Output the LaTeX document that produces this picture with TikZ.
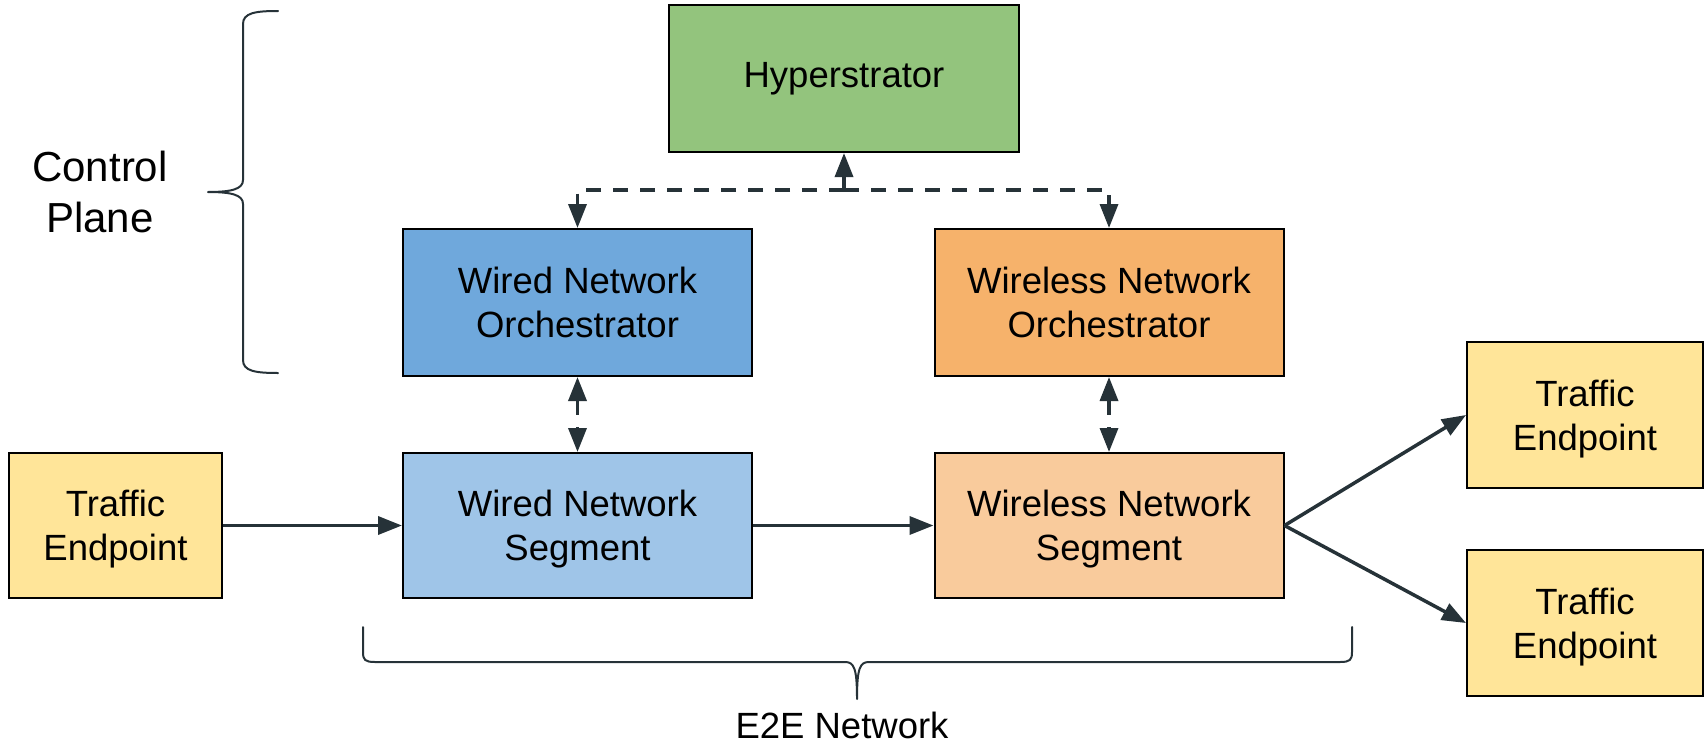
\documentclass[tikz,border=0pt]{standalone}
\usepackage{fontspec}
\setmainfont{Liberation Sans}
\usetikzlibrary{arrows.meta}
\definecolor{hypgreen}{HTML}{93C47D}
\definecolor{orchblue}{HTML}{6FA8DC}
\definecolor{orchorange}{HTML}{F6B26B}
\definecolor{segblue}{HTML}{9FC5E8}
\definecolor{segorange}{HTML}{F9CB9C}
\definecolor{endyellow}{HTML}{FFE599}
\definecolor{arrowdark}{HTML}{263238}
\tikzset{
  box/.style={draw=black, line width=2pt, align=center, inner sep=0pt,
    font=\fontsize{36.5}{44}\selectfont, text height=70.1pt, text depth=0pt,
    minimum width=349pt, minimum height=147pt},
  endbox/.style={box, fill=endyellow, minimum height=145pt},
  flow/.style={draw=arrowdark, line width=3.5pt, -{Triangle[length=24pt,width=18pt]}},
  ctrl/.style={flow, dash pattern=on 15pt off 12pt},
  ctrlboth/.style={ctrl, {Triangle[length=24pt,width=18pt]}-{Triangle[length=24pt,width=18pt]}},
  bracestyle/.style={draw=arrowdark, line width=2pt, line cap=round, line join=round},
  lbl/.style={align=center, inner sep=0pt}
}
\begin{document}
\begin{tikzpicture}[x=1pt,y=-1pt]
\useasboundingbox (0,0) rectangle (1705,744);
% nodes
\node[box, fill=hypgreen, minimum width=350pt, text height=26.1pt, text depth=9pt] (hyp) at (844,78.5) {Hyperstrator};
\node[box, fill=orchblue] (wo) at (577.5,302.5) {Wired Network\\Orchestrator};
\node[box, fill=orchorange] (wlo) at (1109,302.5) {Wireless Network\\Orchestrator};
\node[box, fill=segblue, minimum height=145pt] (ws) at (577.5,525.5) {Wired Network\\Segment};
\node[box, fill=segorange, minimum height=145pt] (wls) at (1109,525.5) {Wireless Network\\Segment};
\node[endbox, minimum width=213pt] (te1) at (115.5,525.5) {Traffic\\Endpoint};
\node[endbox, minimum width=236pt, minimum height=146pt] (te2) at (1585,415) {Traffic\\Endpoint};
\node[endbox, minimum width=236pt, minimum height=146pt] (te3) at (1585,623) {Traffic\\Endpoint};
% labels
\node[lbl, font=\fontsize{42}{51}\selectfont] (cp) at (100,192) {Control\\Plane};
\node[lbl, font=\fontsize{36.5}{44}\selectfont, anchor=base] (e2e) at (842,738) {E2E Network};
% control connectors
\coordinate (jn) at (844,190);
\draw[ctrl] (jn) -- (hyp.south);
\draw[ctrl] (jn) -| (wo.north);
\draw[ctrl] (jn) -| (wlo.north);
\draw[ctrlboth] (wo.south) -- (ws.north);
\draw[ctrlboth] (wlo.south) -- (wls.north);
% data flow
\draw[flow] (te1.east) -- (ws.west);
\draw[flow] (ws.east) -- (wls.west);
\draw[flow] (wls.east) -- (te2.west);
\draw[flow] (wls.east) -- (te3.west);
% braces
\draw[bracestyle] (278,11) .. controls (255,11) and (243,13) .. (243,24) -- (243,180)
  .. controls (243,189) and (232,192) .. (208,192)
  .. controls (232,192) and (243,195) .. (243,204) -- (243,360)
  .. controls (243,371) and (255,373) .. (278,373);
\draw[bracestyle] (363,627) -- (363,652) .. controls (363,660) and (365,662) .. (375,662)
  -- (845,662) .. controls (854,662) and (857,668) .. (857,699)
  .. controls (857,668) and (860,662) .. (869,662) -- (1340,662)
  .. controls (1350,662) and (1352,660) .. (1352,652) -- (1352,627);
\end{tikzpicture}
\end{document}
